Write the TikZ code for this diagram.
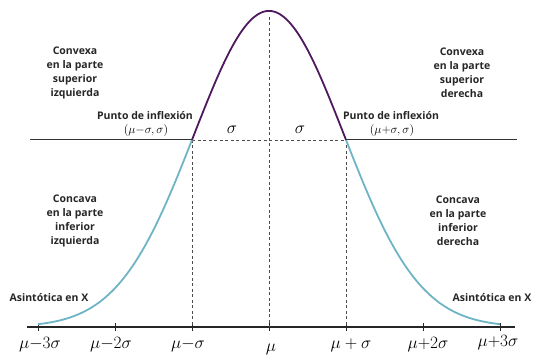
\documentclass[tikz,border=0pt]{standalone}
\usepackage{fontspec}
\newfontfamily\labfont{Open Sans}
\definecolor{topcurve}{RGB}{80,25,95}
\definecolor{lowcurve}{RGB}{110,180,196}
\begin{document}
\begin{tikzpicture}[x=1pt,y=-1pt,
  lbl/.style={font=\labfont\bfseries\fontsize{10.5}{14}\selectfont, align=center, text=black!85, inner sep=0pt},
  axlbl/.style={font=\fontsize{19}{19}\selectfont, anchor=base, inner sep=0pt},
  sig/.style={font=\fontsize{19}{19}\selectfont, inner sep=0pt},
  pt/.style={font=\fontsize{12}{12}\selectfont, inner sep=0pt},
  dsh/.style={dash pattern=on 3pt off 2.5pt, line width=0.8pt, black!70},
  crv/.style={line width=1.8pt, smooth},
  axisline/.style={line width=1.5pt, black!85},
  hline/.style={line width=1pt, black!80},
  tick/.style={line width=1pt, black!85}]
\useasboundingbox (0,0) rectangle (535,358);
% key coordinates
\coordinate (AL) at (27,327);
\coordinate (AR) at (515,327);
\coordinate (HL) at (30,140);
\coordinate (HR) at (517,140);
\coordinate (IL) at (192,140);
\coordinate (IR) at (346,140);
\coordinate (PT) at (269,17);
\coordinate (L3) at (38,327);
\coordinate (L2) at (115,327);
\coordinate (L1) at (192,327);
\coordinate (M0) at (269,327);
\coordinate (R1) at (346,327);
\coordinate (R2) at (423,327);
\coordinate (R3) at (500,327);
% axis and horizontal line
\draw[axisline] (AL) -- (AR);
\foreach \t in {L3,L2,L1,M0,R1,R2,R3}{
  \draw[tick] ([yshift=-4pt]\t) -- ([yshift=4pt]\t);
}
\draw[hline] (HL) -- (IL);
\draw[hline] (IR) -- (HR);
\draw[dsh] (IL) -- (IR);
\draw[dsh] (IL) -- (L1);
\draw[dsh] (IR) -- (R1);
\draw[dsh] (PT) -- (M0);
% curve
\draw[crv, lowcurve] plot[domain=38:192, samples=60] (\x, {327-316*exp(-((\x-269)/77)^2/1.908)});
\draw[crv, lowcurve] plot[domain=346:500, samples=60] (\x, {327-316*exp(-((\x-269)/77)^2/1.908)});
\draw[crv, topcurve] plot[domain=192:346, samples=80] (\x, {327-316*exp(-((\x-269)/77)^2/1.908)});
% texts
\node[lbl] (cvl) at (75,73) {Convexa\\en la parte\\superior\\izquierda};
\node[lbl] (cvr) at (462,73) {Convexa\\en la parte\\superior\\derecha};
\node[lbl] (pil) at (145,116) {Punto de inflexión};
\node[lbl] (pir) at (391,116) {Punto de inflexión};
\node[pt] (cl) at (146,131) {$(\mu{-}\sigma,\sigma)$};
\node[pt] (cr) at (392,131) {$(\mu{+}\sigma,\sigma)$};
\node[lbl] (ccl) at (75,221) {Concava\\en la parte\\inferior\\izquierda};
\node[lbl] (ccr) at (458,221) {Concava\\en la parte\\inferior\\derecha};
\node[lbl] (asl) at (49,298) {Asintótica en X};
\node[lbl] (asr) at (492,298) {Asintótica en X};
\node[sig] (s1) at (232,130) {$\sigma$};
\node[sig] (s2) at (300,130) {$\sigma$};
% axis labels
\node[axlbl] (t1) at (40,348) {$\mu{-}3\sigma$};
\node[axlbl] (t2) at (111,348) {$\mu{-}2\sigma$};
\node[axlbl] (t3) at (188,348) {$\mu{-}\sigma$};
\node[axlbl] (t4) at (271,351) {$\mu$};
\node[axlbl] (t5) at (351,348) {$\mu+\sigma$};
\node[axlbl] (t6) at (428,348) {$\mu{+}2\sigma$};
\node[axlbl] (t7) at (498,346) {$\mu{+}3\sigma$};
\end{tikzpicture}
\end{document}
